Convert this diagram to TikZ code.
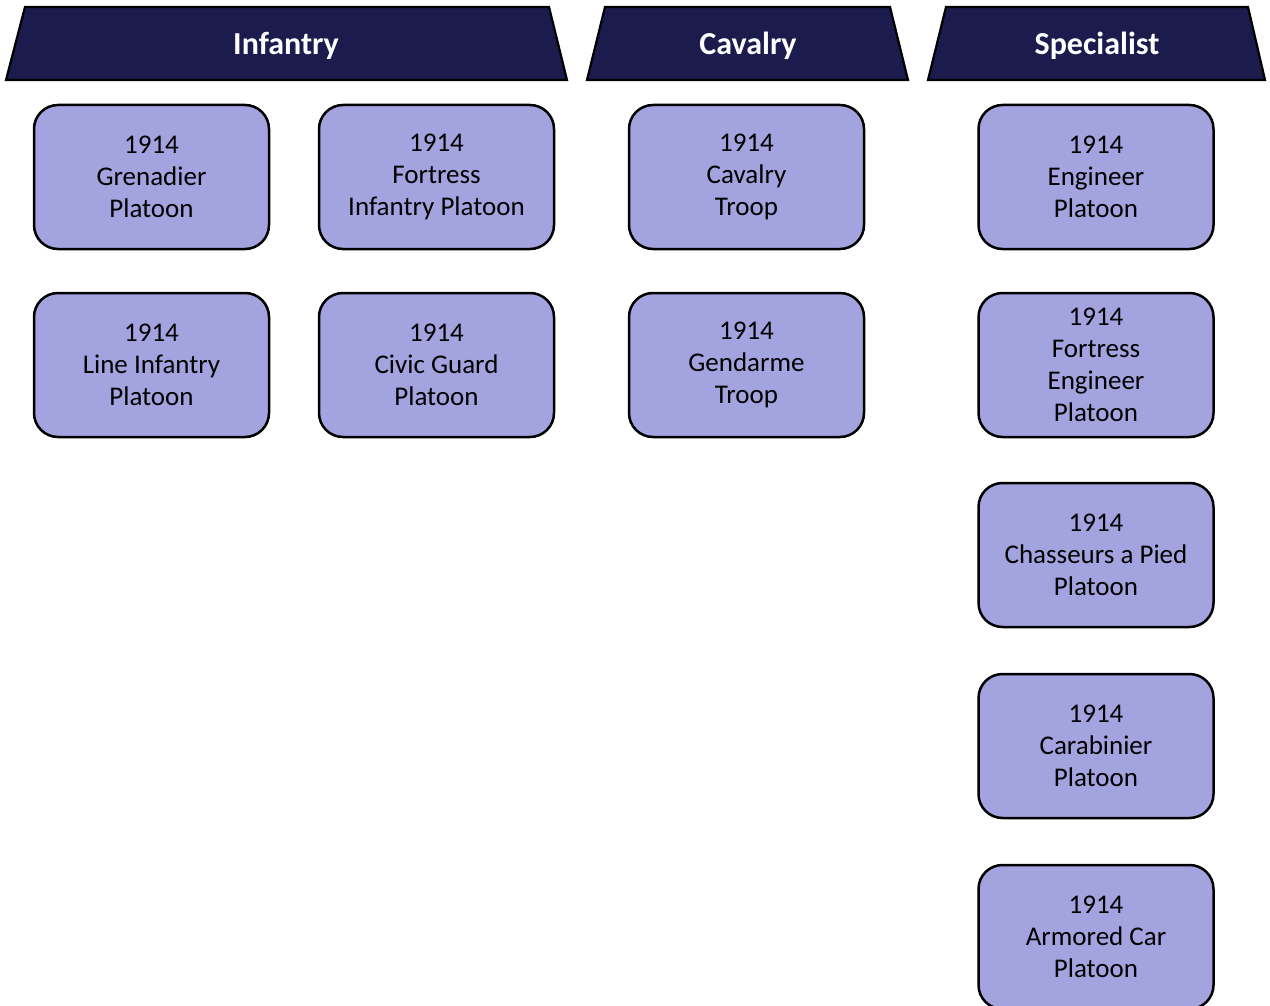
\documentclass[tikz,border=0pt]{standalone}
\usepackage{fontspec}
\setmainfont{Carlito}
\usetikzlibrary{positioning}
\definecolor{headnavy}{HTML}{1B1B4D}
\definecolor{unitfill}{HTML}{A3A3DF}
\tikzset{
  x=1pt, y=-1pt,
  header/.style={fill=headnavy, draw=black, line width=2.2pt, line join=miter},
  headtext/.style={text=white, font=\fontsize{32}{36}\selectfont\bfseries},
  unitbox/.style={draw=black, fill=unitfill, line width=2.5pt, rounded corners=24pt,
    minimum width=235pt, minimum height=144pt, align=center, inner sep=0pt,
    font=\fontsize{27}{32}\selectfont,
    % a tall strut on the first line sets the text block a little lower
    execute at begin node={\rule{0pt}{23.5pt}}},
}
\begin{document}
\begin{tikzpicture}
\useasboundingbox (0,0) rectangle (1270,1006);
\clip (0,0) rectangle (1270,1006);
% column headers
\draw[header] (25,7) -- (549,7) -- (567,80) -- (6,80) -- cycle;
\node[headtext] (hinf) at (286,46) {Infantry};
\draw[header] (605,7) -- (890,7) -- (908,80) -- (587,80) -- cycle;
\node[headtext] (hcav) at (748,46) {Cavalry};
\draw[header] (946,7) -- (1248,7) -- (1265,80) -- (928,80) -- cycle;
\node[headtext] (hspec) at (1097,46) {Specialist};
% infantry units
\node[unitbox] (gren) at (151.5,177) {1914\\Grenadier\\Platoon};
\node[unitbox] (fort) at (436.5,177) {1914\\Fortress\\Infantry Platoon};
\node[unitbox] (line) at (151.5,365) {1914\\Line Infantry\\Platoon};
\node[unitbox] (civic) at (436.5,365) {1914\\Civic Guard\\Platoon};
% cavalry units
\node[unitbox] (cav) at (746.5,177) {1914\\Cavalry\\Troop};
\node[unitbox] (gend) at (746.5,365) {1914\\Gendarme\\Troop};
% specialist units
\node[unitbox] (eng) at (1096,177) {1914\\Engineer\\Platoon};
\node[unitbox] (feng) at (1096,365) {1914\\Fortress\\Engineer\\Platoon};
\node[unitbox] (chas) at (1096,555) {1914\\Chasseurs a Pied\\Platoon};
\node[unitbox] (carab) at (1096,746) {1914\\Carabinier\\Platoon};
\node[unitbox] (armor) at (1096,937) {1914\\Armored Car\\Platoon};
\end{tikzpicture}
\end{document}
